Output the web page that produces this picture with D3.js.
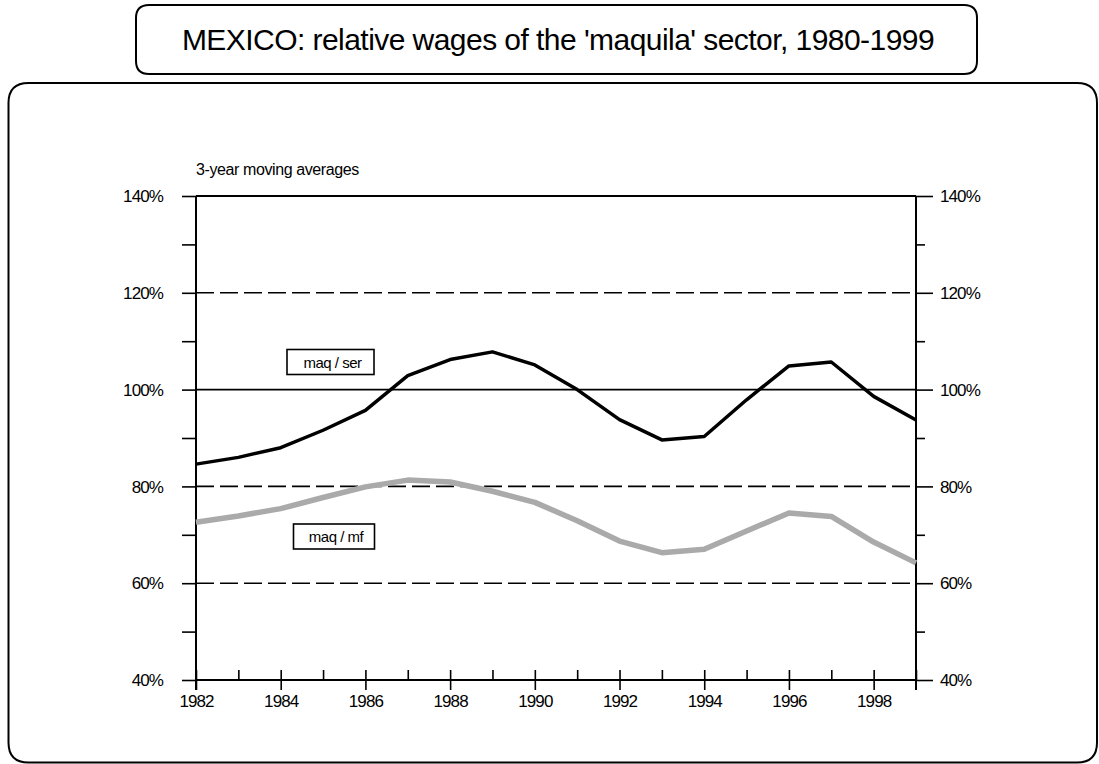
<!DOCTYPE html>
<html>
<head>
<meta charset="utf-8">
<script src="https://cdn.jsdelivr.net/npm/d3@7/dist/d3.min.js"></script>
<style>
  html, body { margin: 0; padding: 0; background: #fff; }
  svg { display: block; }
  text { font-family: "Liberation Sans", Arial, sans-serif; fill: #000; }
</style>
</head>
<body>
<svg id="chart" width="1099" height="764"></svg>
<script>
const years = [1982,1983,1984,1985,1986,1987,1988,1989,1990,1991,1992,1993,1994,1995,1996,1997,1998,1999];
const maqSer = [84.6, 86.0, 88.0, 91.6, 95.7, 102.9, 106.2, 107.8, 105.1, 100.0, 93.8, 89.6, 90.3, 97.9, 104.9, 105.7, 98.6, 93.7];
const maqMf  = [72.6, 73.9, 75.4, 77.7, 79.9, 81.3, 80.9, 79.0, 76.7, 72.9, 68.7, 66.3, 67.0, 70.8, 74.5, 73.8, 68.5, 64.2];
const yMajorTicks = [40, 60, 80, 100, 120, 140];
const yMinorTicks = [50, 70, 90, 110, 130];
const xLabelYears = [1982, 1984, 1986, 1988, 1990, 1992, 1994, 1996, 1998];
const solidGrid = [100, 140];
const dashedGrid = [60, 80, 120];
const title = "MEXICO: relative wages of the 'maquila' sector, 1980-1999";
const subtitle = "3-year moving averages";
const seriesNames = ["maq / ser", "maq / mf"];

const svg = d3.select("#chart");
const L = 196, R = 916, T = 196, B = 680;
const x = d3.scaleLinear().domain([1982, 1999]).range([L, R]);
const y = d3.scaleLinear().domain([40, 140]).range([B, T]);

function roundRect(x0, y0, x1, y1, r) {
  return `M${x0+r},${y0} L${x1-r},${y0} Q${x1},${y0} ${x1},${y0+r} L${x1},${y1-r} Q${x1},${y1} ${x1-r},${y1} L${x0+r},${y1} Q${x0},${y1} ${x0},${y1-r} L${x0},${y0+r} Q${x0},${y0} ${x0+r},${y0} Z`;
}
svg.append("path").attr("d", roundRect(8.5, 83, 1097, 762.5, 20))
  .attr("fill", "none").attr("stroke", "#000").attr("stroke-width", 2);
svg.append("path").attr("d", roundRect(136, 5, 977, 74, 13))
  .attr("fill", "#fff").attr("stroke", "#000").attr("stroke-width", 2);
svg.append("text").attr("x", 558).attr("y", 50).attr("text-anchor", "middle")
  .attr("font-size", 30).attr("letter-spacing", -0.55).text(title);

svg.append("text").attr("x", 196).attr("y", 175).attr("font-size", 16)
  .attr("letter-spacing", -0.4).text(subtitle);

// gridlines
svg.append("g").selectAll("line").data(dashedGrid).join("line")
  .attr("x1", L).attr("x2", R).attr("y1", d => y(d)).attr("y2", d => y(d))
  .attr("stroke", "#000").attr("stroke-width", 1.6).attr("stroke-dasharray", "18,6");
svg.append("g").selectAll("line").data(solidGrid).join("line")
  .attr("x1", L).attr("x2", R).attr("y1", d => y(d)).attr("y2", d => y(d))
  .attr("stroke", "#000").attr("stroke-width", d => d === 140 ? 2 : 1.7);

// left axis
const gL = svg.append("g").attr("transform", `translate(${L},0)`);
gL.call(d3.axisLeft(y).tickValues(yMajorTicks).tickSize(14).tickPadding(19).tickFormat(d => d + "%"));
gL.append("g").call(d3.axisLeft(y).tickValues(yMinorTicks).tickSize(14).tickFormat(""));
// right axis
const gR = svg.append("g").attr("transform", `translate(${R},0)`);
gR.call(d3.axisRight(y).tickValues(yMajorTicks).tickSize(17).tickPadding(7).tickFormat(d => d + "%"));
gR.append("g").call(d3.axisRight(y).tickValues(yMinorTicks).tickSize(9).tickFormat(""));
// bottom axis
const gB = svg.append("g").attr("transform", `translate(0,${B})`);
gB.call(d3.axisBottom(x).tickValues(xLabelYears).tickSize(10).tickPadding(5).tickFormat(d3.format("d")));
gB.append("g").call(d3.axisTop(x).tickValues(years).tickSize(10).tickFormat(""));

[gL, gR, gB].forEach(g => {
  g.selectAll(".domain").remove();
  g.selectAll("line").attr("stroke", "#000").attr("stroke-width", 1.6);
  g.selectAll("text").attr("font-size", 17).attr("letter-spacing", -0.9)
    .style("font-family", '"Liberation Sans", Arial, sans-serif').attr("fill", "#000");
});
gL.selectAll("text").attr("dy", "0.34em");
gR.selectAll("text").attr("dy", "0.34em");

// axis lines
svg.append("line").attr("x1", L).attr("x2", L).attr("y1", T).attr("y2", B + 10)
  .attr("stroke", "#000").attr("stroke-width", 2);
svg.append("line").attr("x1", R).attr("x2", R).attr("y1", T).attr("y2", B + 10)
  .attr("stroke", "#000").attr("stroke-width", 2);
svg.append("line").attr("x1", L).attr("x2", R).attr("y1", B).attr("y2", B)
  .attr("stroke", "#000").attr("stroke-width", 2);

// series
const line = d3.line().x((d, i) => x(years[i])).y(d => y(d));
svg.append("path").datum(maqMf).attr("d", line).attr("fill", "none")
  .attr("stroke", "#aaaaaa").attr("stroke-width", 5.5).attr("stroke-linejoin", "round");
svg.append("path").datum(maqSer).attr("d", line).attr("fill", "none")
  .attr("stroke", "#000").attr("stroke-width", 3.5).attr("stroke-linejoin", "round");

// labels
const labels = [
  { name: seriesNames[0], x0: 287, y0: 349.5, w: 87, h: 25 },
  { name: seriesNames[1], x0: 293.5, y0: 524, w: 81, h: 25 }
];
labels.forEach(l => {
  svg.append("rect").attr("x", l.x0).attr("y", l.y0).attr("width", l.w).attr("height", l.h)
    .attr("fill", "#fff").attr("stroke", "#000").attr("stroke-width", 1.6);
  svg.append("text").attr("x", l.x0 + l.w / 2 + 2).attr("y", l.y0 + l.h / 2 + 5.5)
    .attr("text-anchor", "middle").attr("font-size", 15).attr("letter-spacing", -0.5).text(l.name);
});
</script>
</body>
</html>
